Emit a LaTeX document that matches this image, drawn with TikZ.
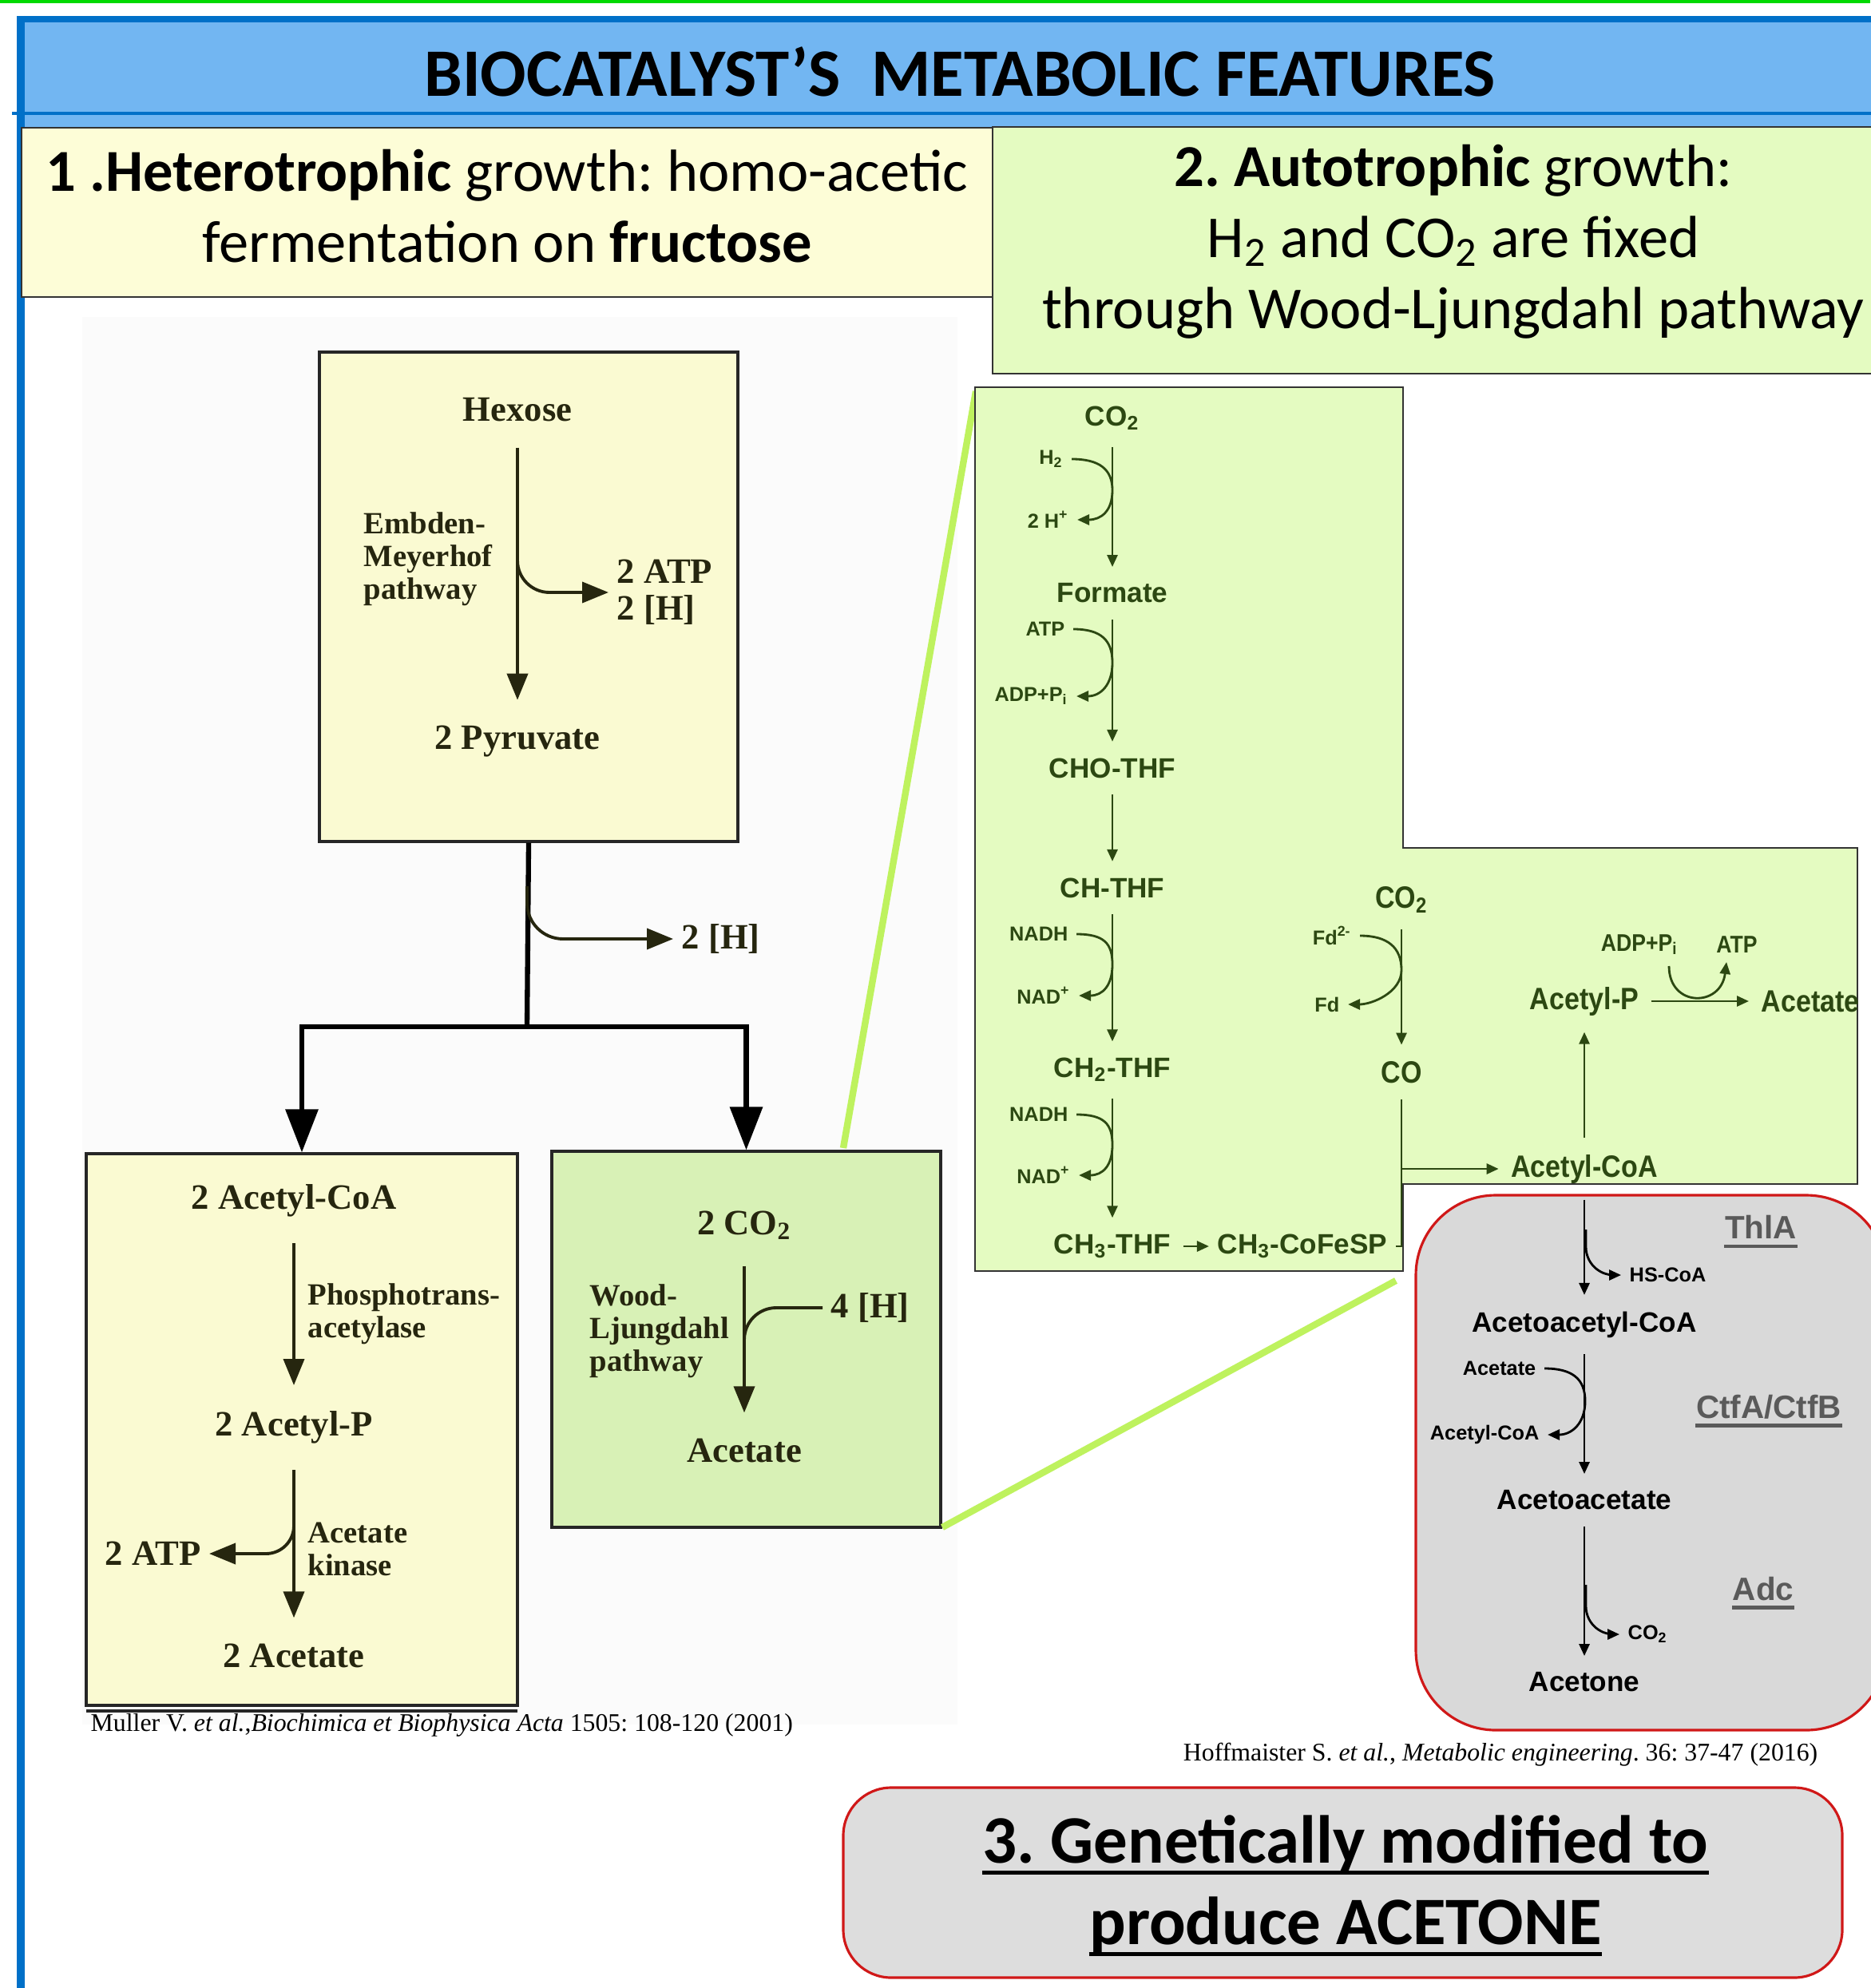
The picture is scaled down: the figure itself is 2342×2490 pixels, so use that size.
\documentclass[tikz,border=0pt]{standalone}
\usepackage{fontspec}
\setmainfont{Liberation Serif}
\newfontfamily\calibfont{Carlito}
\newfontfamily\arialfont{Liberation Sans}
\newfontfamily\narrowfont[FakeStretch=0.88]{Liberation Sans}
\usepackage{xcolor}
\usetikzlibrary{arrows.meta, positioning, fit, shapes}

\definecolor{hdrblue}{HTML}{72B6F2}
\definecolor{darkblue}{HTML}{0070C8}
\definecolor{paleyellow}{HTML}{FDFDD7}
\definecolor{palegreen}{HTML}{E4FBC1}
\definecolor{mulleryellow}{HTML}{FAFAD2}
\definecolor{mullergreen}{HTML}{D8F1B6}
\definecolor{limeline}{HTML}{BEF25E}
\definecolor{boxgray}{HTML}{D9D9D9}
\definecolor{boxred}{HTML}{D01818}
\definecolor{olive}{HTML}{2C4812}
\definecolor{ink}{HTML}{26260F}
\definecolor{enzgray}{HTML}{5A5A5A}

\begin{document}
\frenchspacing
\begin{tikzpicture}[x=0.1mm, y=-0.1mm,
    mbox/.style={draw=black!85, line width=0.9pt, fill=mulleryellow, inner sep=0pt},
    mtxt/.style={font=\bfseries\fontsize{12.7}{14}\selectfont, text=ink, inner xsep=1mm, inner ysep=3.2mm},
    mlab/.style={font=\bfseries\fontsize{11}{11.7}\selectfont, text=ink, align=left, inner sep=0pt},
    marr/.style={draw=ink, line width=1.1pt, -{Triangle[length=3.3mm, width=2.6mm]}},
    mline/.style={draw=ink, line width=1.1pt},
    bigarr/.style={draw=black, line width=1.8pt, -{Triangle[length=5.4mm, width=4mm]}},
    htxt/.style={font=\arialfont\bfseries\fontsize{10}{11}\selectfont, text=olive, inner xsep=1.5mm, inner ysep=2mm},
    hnar/.style={font=\narrowfont\bfseries\fontsize{11}{12}\selectfont, text=olive, inner xsep=1.5mm, inner ysep=2mm},
    hsm/.style={font=\arialfont\bfseries\fontsize{7.2}{8}\selectfont, text=olive, inner sep=1mm},
    harr/.style={draw=olive, line width=0.8pt, -{Triangle[length=1.5mm, width=1.3mm]}},
    hline/.style={draw=olive, line width=0.8pt},
    gtxt/.style={htxt, text=black},
    gsm/.style={hsm, text=black},
    garr/.style={harr, draw=black},
    enz/.style={font=\arialfont\bfseries\fontsize{11.5}{12}\selectfont, text=enzgray, inner sep=0pt},
    hdr/.style={font=\calibfont\fontsize{21.2}{25.3}\selectfont, align=center},
    big/.style={font=\calibfont\bfseries\fontsize{24.2}{28}\selectfont, inner sep=0pt},
    cite/.style={font=\fontsize{9.05}{10}\selectfont, inner sep=0pt},
  ]
\useasboundingbox (0,0) rectangle (2342,2490);

% header band
\fill[hdrblue] (22,20) rectangle (2350,160);
\draw[darkblue, line width=2.3pt] (22,24) -- (2350,24);
\draw[darkblue, line width=1.2pt] (15,142) -- (2350,142);
\draw[darkblue, line width=2.8pt] (26,20) -- (26,2490);
\draw[green!85!black, line width=1pt] (0,2) -- (2342,2);
\node[big] (title) at (1202,90) {BIOCATALYST’S\ \ METABOLIC FEATURES};

\node[hdr, draw=black!80, fill=paleyellow, minimum width=121.6mm, minimum height=21.2mm]
  (hetero) at (635,266) {};
\node[hdr] (heterotxt) at (635,258) {\textbf{1 .Heterotrophic} growth: homo-acetic\\fermentation on \textbf{fructose}};
\node[hdr, draw=black!80, fill=palegreen, minimum width=111mm, minimum height=30.9mm]
  (auto) at (1798,313.5) {};
\node[hdr] (autotxt) at (1820,303) {\textbf{2. Autotrophic} growth:\\H\textsubscript{2} and CO\textsubscript{2} are fixed\\through Wood-Ljungdahl pathway};

% Muller scheme
\fill[black!1.5] (103,397) rectangle (1199,2160);
\node[mbox, minimum width=52.4mm, minimum height=61.3mm] (hexbox) at (662,747.5) {};
\node[mbox, minimum width=54mm, minimum height=69.1mm] (accbox) at (378,1790.5) {};
\draw[black!85, line width=0.9pt] (108,2143) -- (648,2143);
\node[mbox, fill=mullergreen, minimum width=48.7mm, minimum height=47.1mm] (wlbox) at (934.5,1677.5) {};

\node[mtxt] (hexose) at (648,513) {Hexose};
\node[mtxt] (pyr) at (648,929) {2 Pyruvate};
\node[mlab, anchor=west] (emp) at (455,700) {Embden-\\Meyerhof\\pathway};
\node[mtxt, anchor=west, align=left, inner sep=1mm] (atp1) at (762,742) {2 ATP\\[-1pt]2 [H]};
\coordinate (b1) at (648,690);

\coordinate (b2) at (660,1110);
\coordinate (split) at (660,1286);
\node[mtxt, anchor=west, inner sep=1mm] (h2b) at (843,1176) {2 [H]};

\node[mtxt] (acc) at (368,1504) {2 Acetyl-CoA};
\node[mtxt] (acp1) at (368,1788) {2 Acetyl-P};
\node[mtxt] (ac2) at (368,2074) {2 Acetate};
\node[mlab, anchor=west] (pta) at (385,1646) {Phosphotrans-\\acetylase};
\node[mlab, anchor=west] (ak) at (385,1940) {Acetate\\kinase};
\node[mtxt, anchor=east, inner sep=1mm] (atpk) at (262,1946) {2 ATP};
\coordinate (b3) at (368,1895);

\node[mtxt] (co2m) at (932,1535) {2 CO\textsubscript{2}};
\node[mtxt] (acm) at (932,1817) {Acetate};
\node[mlab, anchor=west] (wl) at (738,1667) {Wood-\\Ljungdahl\\pathway};
\node[mtxt, anchor=west, inner sep=1mm] (h4) at (1030,1638) {4 [H]};
\coordinate (b4) at (932,1700);

\draw[marr] (hexose) -- (pyr);
\draw[marr, rounded corners=4mm] (b1) |- (atp1.west);
\draw[line width=1.8pt] (hexbox.south) -- (split);
\draw[marr, rounded corners=4.5mm] (b2) |- (h2b.west);
\draw[bigarr] (split) -| (accbox.north);
\draw[bigarr] (split) -| (wlbox.north);
\draw[marr] (acc) -- (acp1);
\draw[marr] (acp1) -- (ac2);
\draw[marr, rounded corners=3.5mm] (b3) |- (atpk.east);
\draw[marr] (co2m) -- (acm);
\draw[mline, rounded corners=4mm] (h4.west) -| (b4);

\node[cite, anchor=west] (cite1) at (113,2161)
  {Muller V. \textit{et al.},\textit{Biochimica et Biophysica Acta} 1505: 108-120 (2001)};

% zoom lines
\draw[limeline, line width=2.4pt] (1056,1438) -- (1222,490);
\draw[limeline, line width=2.4pt] (1180,1913) -- (1748,1604);

% Hoffmaister scheme
\filldraw[fill=palegreen, draw=black!80, line width=0.6pt]
  (1221,485) -- (1757,485) -- (1757,1062) -- (2326,1062) -- (2326,1483)
  -- (1757,1483) -- (1757,1592) -- (1221,1592) -- cycle;

\node[htxt] (co2a) at (1393,524) {CO\textsubscript{2}};
\node[htxt] (form) at (1393,743) {Formate};
\node[htxt] (chothf) at (1393,962) {CHO-THF};
\node[htxt] (chthf) at (1393,1112) {CH-THF};
\node[htxt] (ch2thf) at (1393,1340) {CH\textsubscript{2}-THF};
\node[htxt] (ch3thf) at (1393,1561) {CH\textsubscript{3}-THF};
\node[htxt, inner xsep=1mm] (cofesp) at (1631,1561) {CH\textsubscript{3}-CoFeSP};

\node[hsm, anchor=east] (h2) at (1342,575) {H\textsubscript{2}};
\node[hsm, anchor=east] (hplus) at (1349,651) {2 H\textsuperscript{+}};
\node[hsm, anchor=east] (atpa) at (1344,788) {ATP};
\node[hsm, anchor=east] (adpa) at (1348,872) {ADP+P\textsubscript{i}};
\node[hsm, anchor=east] (nadh1) at (1348,1170) {NADH};
\node[hsm, anchor=east] (nad1) at (1351,1247) {NAD\textsuperscript{+}};
\node[hsm, anchor=east] (nadh2) at (1348,1396) {NADH};
\node[hsm, anchor=east] (nad2) at (1351,1472) {NAD\textsuperscript{+}};

\node[hnar] (co2b) at (1755,1127) {CO\textsubscript{2}};
\node[hnar] (co) at (1755,1343) {CO};
\node[hsm, anchor=east] (fdr) at (1703,1172) {Fd\textsuperscript{2-}};
\node[hsm, anchor=east] (fdo) at (1688,1258) {Fd};
\node[hnar] (acoa) at (1984,1464) {Acetyl-CoA};
\node[hnar] (acp) at (1984,1254) {Acetyl-P};
\node[hnar, anchor=west] (acet) at (2190,1254) {Acetate};
\node[hsm, font=\narrowfont\bfseries\fontsize{8.6}{9}\selectfont] (adpb) at (2053,1183) {ADP+P\textsubscript{i}};
\node[hsm, font=\narrowfont\bfseries\fontsize{8.6}{9}\selectfont] (atpb) at (2175,1183) {ATP};
\coordinate (u1) at (2090,1210);
\coordinate (u2) at (2162,1205);

\draw[harr] (co2a) -- (form);
\draw[harr] (form) -- (chothf);
\draw[harr] (chothf) -- (chthf);
\draw[harr] (chthf) -- (ch2thf);
\draw[harr] (ch2thf) -- (ch3thf);
\draw[harr] (ch3thf) -- (cofesp);
\draw[harr] (h2.east) .. controls +(35,0) and +(0,-26) .. (1393,614) .. controls +(0,26) and +(30,0) .. (hplus.east);
\draw[harr] (atpa.east) .. controls +(35,0) and +(0,-28) .. (1393,830) .. controls +(0,28) and +(30,0) .. (adpa.east);
\draw[harr] (nadh1.east) .. controls +(35,0) and +(0,-26) .. (1393,1208) .. controls +(0,26) and +(30,0) .. (nad1.east);
\draw[harr] (nadh2.east) .. controls +(35,0) and +(0,-26) .. (1393,1434) .. controls +(0,26) and +(30,0) .. (nad2.east);
\draw[harr] (co2b) -- (co);
\draw[harr] (fdr.east) .. controls +(35,0) and +(0,-28) .. (1755,1215) .. controls +(0,28) and +(30,0) .. (fdo.east);
\draw[hline] (co) -- (co |- cofesp.east) -- (cofesp.east);
\draw[harr] (co |- acoa) -- (acoa);
\draw[harr] (acoa) -- (acp);
\draw[harr] (acp) -- (acet);
\draw[harr] (u1) .. controls (2090,1262) and (2155,1262) .. (u2);

% acetone module
\filldraw[fill=boxgray, draw=boxred, line width=0.9pt, rounded corners=10mm]
  (1773,1497) rectangle (2362,2167);
\node[gtxt] (aacoa) at (1984,1659) {Acetoacetyl-CoA};
\node[gtxt] (aac) at (1984,1879) {Acetoacetate};
\node[gtxt] (acetone) at (1984,2107) {Acetone};
\node[gsm, anchor=west] (hscoa) at (2030,1597) {HS-CoA};
\node[gsm, anchor=east] (acet3) at (1934,1714) {Acetate};
\node[gsm, anchor=east] (acoa3) at (1938,1797) {Acetyl-CoA};
\node[gsm, anchor=west] (co2c) at (2028,2047) {CO\textsubscript{2}};
\coordinate (b5) at (1986,1540);
\coordinate (b6) at (1986,1985);
\node[enz] (thla) at (2205,1537) {ThlA};
\node[enz] (ctf) at (2215,1762) {CtfA/CtfB};
\node[enz] (adc) at (2208,1990) {Adc};
\foreach \e in {thla, ctf, adc}
  \draw[enzgray, line width=1.2pt] ([yshift=-2.6pt]\e.base west) -- ([yshift=-2.6pt]\e.base east);

\draw[garr] (acoa) -- (aacoa);
\draw[garr, rounded corners=3.5mm] (b5) |- (hscoa.west);
\draw[garr] (aacoa) -- (aac);
\draw[garr] (acet3.east) .. controls +(35,0) and +(0,-28) .. (1985,1755) .. controls +(0,28) and +(30,0) .. (acoa3.east);
\draw[garr] (aac) -- (acetone);
\draw[garr, rounded corners=3.5mm] (b6) |- (co2c.west);

\node[cite, anchor=east] (cite2) at (2277,2198)
  {Hoffmaister S. \textit{et al.}, \textit{Metabolic engineering}. 36: 37-47 (2016)};

% genetic modification box
\filldraw[fill=boxgray!90!white, draw=boxred, line width=0.9pt, rounded corners=6mm]
  (1056,2239) rectangle (2307,2477);
\node[big] (gm1) at (1685,2310) {3. Genetically modified to};
\node[big] (gm2) at (1685,2412) {produce ACETONE};
\foreach \g in {gm1, gm2}
  \draw[line width=1.4pt] ([yshift=-3.4pt]\g.base west) -- ([yshift=-3.4pt]\g.base east);
\end{tikzpicture}
\end{document}
